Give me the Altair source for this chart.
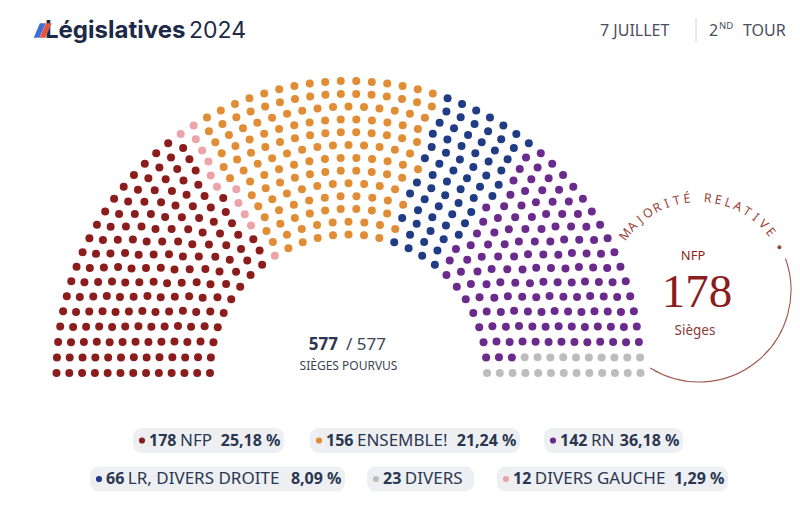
import altair as alt
import numpy as np
import pandas as pd

# ---------------- data ----------------
parties = ["NFP", "DIVERS GAUCHE", "ENSEMBLE!", "LR, DIVERS DROITE", "RN", "DIVERS"]
seats = [178, 12, 156, 66, 142, 23]
colors = ["#8c1d1d", "#eca4aa", "#e08d36", "#1f3c85", "#6a2b8d", "#bdbdbd"]
pcts = ["25,18 %", "1,29 %", "21,24 %", "8,09 %", "36,18 %", ""]
legend_order = ["NFP", "ENSEMBLE!", "RN", "LR, DIVERS DROITE", "DIVERS", "DIVERS GAUCHE"]
seats_filled = 577
seats_total = 577
majority_label = "MAJORITÉ RELATIVE"
leader = "NFP"
leader_seats = 178
title_bold = "Législatives"
title_year = "2024"
date_label = "7 JUILLET"
round_num, round_sup, round_word = "2", "ND", "TOUR"

# ---------------- layout ----------------
W, H = 800, 519
CX, CY = 348.5, 373.0
R_IN, R_OUT, N_ROWS = 138.5, 292.0, 13
FS = 16
FS_NAME = 17
LFONT = "Noto Sans"
DARK = "#2b3650"
RED = "#8c1d1d"
BROWN = "#9c4438"

radii = np.linspace(R_IN, R_OUT, N_ROWS)
total = sum(seats)
raw = radii / radii.sum() * total
per_row = np.floor(raw).astype(int)
extra = total - per_row.sum()
per_row[np.argsort(-(raw - per_row))[:extra]] += 1
rows = []
for r, n in zip(radii, per_row):
    for k in range(n):
        rows.append((np.pi * (1 - k / (n - 1)), r))
seat_df = pd.DataFrame(rows, columns=["theta", "r"]).sort_values(
    ["theta", "r"], ascending=[False, True], kind="mergesort").reset_index(drop=True)
seat_df["party"] = np.repeat(parties, seats)
seat_df["x"] = CX + seat_df.r * np.cos(seat_df.theta)
seat_df["y"] = CY - seat_df.r * np.sin(seat_df.theta)

xs = alt.Scale(domain=[0, W], nice=False, zero=False)
ys = alt.Scale(domain=[0, H], nice=False, zero=False, reverse=True)
X = lambda f: alt.X(f, type="quantitative", scale=xs, axis=None)
Y = lambda f: alt.Y(f, type="quantitative", scale=ys, axis=None)
color_scale = alt.Scale(domain=parties, range=colors)

seat_layer = alt.Chart(seat_df).mark_circle(size=64, opacity=1).encode(
    x=X("x"), y=Y("y"), color=alt.Color("party:N", scale=color_scale, legend=None))

one = pd.DataFrame({"d": [0]})


def txt(text, x, y, size, color, weight="normal", align="left", font=LFONT, baseline="middle"):
    return alt.Chart(pd.DataFrame({"t": [text]})).mark_text(
        fontSize=size, color=color, fontWeight=weight, align=align, font=font, baseline=baseline
    ).encode(x=alt.value(x), y=alt.value(y), text="t:N")


# ---------------- header ----------------
logo = alt.Chart(pd.DataFrame({"x": [39.5, 45.5], "y": [30.5, 30.5], "c": ["#3e6fd6", "#e6553b"]})).mark_point(
    shape="M -0.8 1 L 0.05 -1 L 0.85 -1 L 0 1 Z", filled=True, size=210, opacity=1
).encode(x=X("x"), y=Y("y"), color=alt.Color("c:N", scale=None))
header = [
    txt(title_bold, 45, 31, 24, "#1c2a48", "bold", font="Inter"),
    logo,
    txt(title_year, 189, 31, 23, "#1c2a48", "normal", font="Inter"),
    txt(date_label, 600, 31, 16, "#4a4f5c"),
    alt.Chart(one).mark_rule(color="#d0d2d6", strokeWidth=1).encode(
        x=alt.value(696), y=alt.value(18), y2=alt.value(42)),
    txt(round_num, 709, 31, 16, "#4a4f5c"),
    txt(round_sup, 719, 26, 9.5, "#4a4f5c"),
    txt(round_word, 743, 31, 16, "#4a4f5c"),
]

# ---------------- centre ----------------
centre = [
    txt(str(seats_filled), 338, 345, 17, DARK, "bold", align="right"),
    txt(f"/ {seats_total}", 346, 345, 17, "#3d4456"),
    txt("SIÈGES POURVUS", CX, 366, 12, "#3d4456", align="center"),
]

# ---------------- majority circle ----------------
MX, MY, MR = 699, 290, 92
letters = list(majority_label)
ang = np.linspace(-53, 51, len(letters))
letter_df = pd.DataFrame({
    "ch": letters,
    "ang": ang,
    "x": MX + 92 * np.sin(np.radians(ang)),
    "y": MY - 92 * np.cos(np.radians(ang)),
})
letter_layer = alt.Chart(letter_df).mark_text(fontSize=12.5, color=BROWN, font=LFONT, baseline="middle",
                                              align="center").encode(
    x=X("x"), y=Y("y"), text="ch:N", angle=alt.Angle("ang:Q", scale=None))
dot_df = pd.DataFrame({"x": [MX + 91 * np.sin(np.radians(62))], "y": [MY - 91 * np.cos(np.radians(62))]})
dot_layer = alt.Chart(dot_df).mark_circle(size=16, color=BROWN, opacity=1).encode(x=X("x"), y=Y("y"))
arc_layer = alt.Chart(one).mark_arc(
    radius=MR, radius2=MR, theta=np.radians(70), theta2=np.radians(212),
    stroke="#a0574d", strokeWidth=1.1, fillOpacity=0
).encode(x=alt.value(MX), y=alt.value(MY))
circle = [
    arc_layer, letter_layer, dot_layer,
    txt(leader, 693, 256, 13, RED, align="center"),
    txt(str(leader_seats), 697, 293, 47, RED, align="center", font="Liberation Serif"),
    txt("Sièges", 695, 331, 13.5, "#8a3a33", align="center"),
]

# ---------------- legend pills ----------------
PILL = {"NFP": (133, 284, 0), "ENSEMBLE!": (310, 520, 0), "RN": (544, 683, 0),
        "LR, DIVERS DROITE": (90, 345, 1), "DIVERS": (367, 474, 1), "DIVERS GAUCHE": (497, 728, 1)}
ROW_Y = [440.5, 479.0]
PILL_H = 25
DIGIT_W = 0.572 * FS
recs = []
for p in legend_order:
    i = parties.index(p)
    x0, x1, row = PILL[p]
    num = str(seats[i])
    numx = x0 + 16
    recs.append(dict(party=p, x0=x0, x1=x1, y=ROW_Y[row], ya=ROW_Y[row] - PILL_H / 2,
                     yb=ROW_Y[row] + PILL_H / 2, dotx=x0 + 9, num=num, numx=numx,
                     name=p, namex=numx + len(num) * DIGIT_W + 3.5, pct=pcts[i], pctx=x1 - 3.5))
leg = pd.DataFrame(recs)
legend = [
    alt.Chart(leg).mark_rect(cornerRadius=9, color="#edeff2").encode(
        x=X("x0"), x2="x1", y=Y("ya"), y2="yb"),
    alt.Chart(leg).mark_circle(size=38, opacity=1).encode(
        x=X("dotx"), y=Y("y"), color=alt.Color("party:N", scale=color_scale, legend=None)),
    alt.Chart(leg).mark_text(fontSize=FS, fontWeight="bold", color=DARK, align="left", font=LFONT).encode(
        x=X("numx"), y=Y("y"), text="num:N"),
    alt.Chart(leg).mark_text(fontSize=FS_NAME, color=DARK, align="left", font=LFONT).encode(
        x=X("namex"), y=Y("y"), text="name:N"),
    alt.Chart(leg).mark_text(fontSize=FS, fontWeight="bold", color=DARK, align="right", font=LFONT).encode(
        x=X("pctx"), y=Y("y"), text="pct:N"),
]

chart = alt.layer(seat_layer, *header, *centre, *circle, *legend).properties(
    width=W, height=H, padding=0, autosize="none", background="white"
).configure_view(stroke=None)

chart.save("out.html", embed_options={"renderer": "svg", "actions": False})
